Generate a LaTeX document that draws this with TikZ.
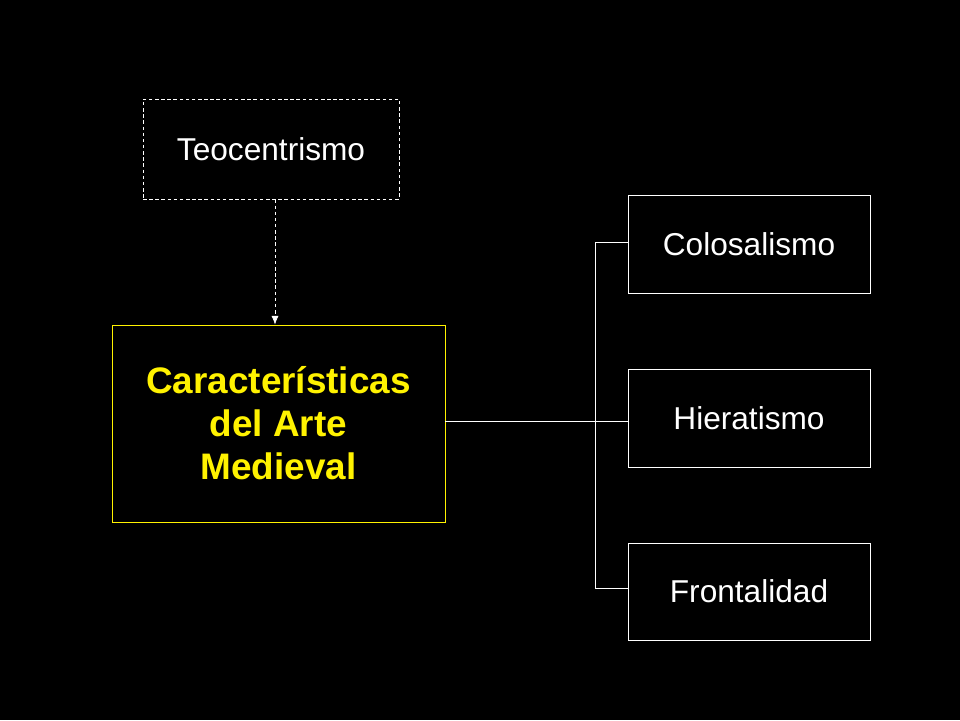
\documentclass[tikz,border=0pt]{standalone}
\usepackage{fontspec}
\setmainfont{Liberation Sans}
\usetikzlibrary{arrows.meta}
\begin{document}
\begin{tikzpicture}[x=0.02cm,y=-0.02cm,
  box/.style={draw=white,line width=0.4pt,text=white,font=\fontsize{18}{21}\selectfont},
  line/.style={draw=white,line width=0.4pt}]
\fill[black] (0,0) rectangle (960,720);
\useasboundingbox (0,0) rectangle (960,720);
\node[box,dash pattern=on 2pt off 1.5pt,minimum width=256*0.02cm,minimum height=100*0.02cm] (teo) at (271,149) {Teocentrismo};
\node[draw=yellow,line width=0.4pt,text=yellow,align=center,font=\bfseries\fontsize{21}{24.5}\selectfont,minimum width=333*0.02cm,minimum height=197*0.02cm] (main) at (278.5,423.5) {Características\\del Arte\\Medieval};
\node[box,minimum width=242*0.02cm,minimum height=98*0.02cm] (c) at (749,244) {Colosalismo};
\node[box,minimum width=242*0.02cm,minimum height=98*0.02cm] (h) at (749,418) {Hieratismo};
\node[box,minimum width=242*0.02cm,minimum height=97*0.02cm] (f) at (749,591.5) {Frontalidad};
\coordinate (a1) at (275,199);
\coordinate (a2) at (275,325);
\draw[line,dash pattern=on 2pt off 1.5pt,-{Latex[length=5pt,width=4pt]}] (teo.south -| a1) -- (main.north -| a2);
\draw[line] (main.east |- 0,421) -- (h.west |- 0,421);
\draw[line] (c.west |- 0,242) -- (595,242) -- (595,588) -- (f.west |- 0,588);
\end{tikzpicture}
\end{document}
